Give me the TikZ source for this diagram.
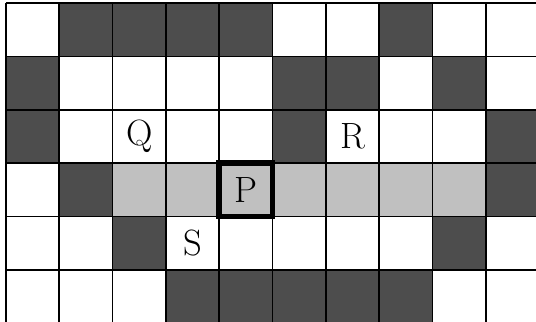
\documentclass[tikz,border=0pt]{standalone}
\usepackage{tikz}
\usetikzlibrary{positioning}

\begin{document}
\begin{tikzpicture}[font=\fontsize{19.5}{23}\selectfont]

        \definecolor{walldark}{RGB}{77, 77, 77}
        \definecolor{pathgray}{RGB}{192, 192, 192}
        \tikzset{
            wall/.style={fill=walldark},
            pathcell/.style={fill=pathgray},
            gridline/.style={draw=black, line width=0.9pt},
            label/.style={inner sep=0pt, text=black},
            current/.style={draw=black, line width=3pt, fill=pathgray, minimum size=1cm, inner sep=0pt}
        }

        \useasboundingbox (-0.11, 0.04) rectangle (9.94, 6.06);


        % cells: (column, row from top)
        \foreach \c/\r in {2/1, 3/1, 4/1, 5/1, 8/1,
                           1/2, 6/2, 7/2, 9/2,
                           1/3, 6/3, 10/3,
                           2/4, 10/4,
                           3/5, 9/5,
                           4/6, 5/6, 6/6, 7/6, 8/6}
            \fill[wall] (\c-1, 6-\r) rectangle (\c, 7-\r);
        \foreach \c in {3, 4, 6, 7, 8, 9}
            \fill[pathcell] (\c-1, 2) rectangle (\c, 3);


        \draw[gridline] (0, 0) grid (10, 6);


        \node[label] (cellQ) at (2.5, 3.5) {Q};
        \node[label] (cellR) at (6.5, 3.5) {R};
        \node[label] (cellS) at (3.5, 1.5) {S};
        \node[current] (cellP) at (4.5, 2.5) {P};

    \end{tikzpicture}
\end{document}
